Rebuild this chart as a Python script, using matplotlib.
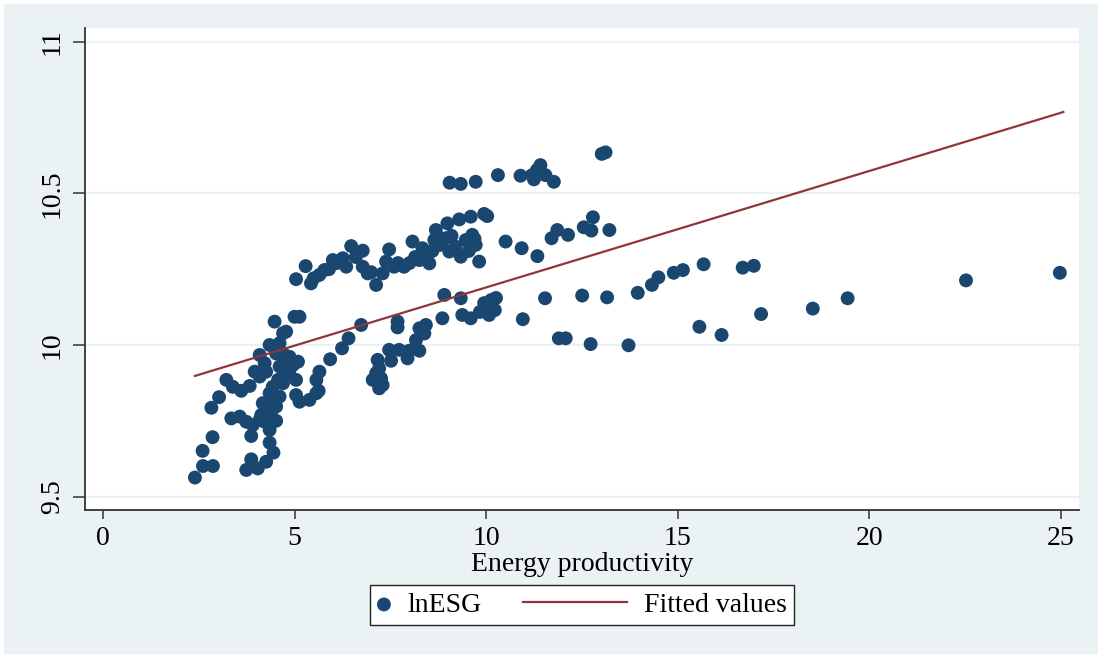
import matplotlib

matplotlib.use("Agg")
import matplotlib.pyplot as plt
import numpy as np
from matplotlib.legend_handler import HandlerLine2D
from matplotlib.patches import Rectangle

# Energy productivity (x) vs lnESG (y)
x_left = [2.40, 2.60, 2.61, 2.87, 2.86, 2.83, 3.03, 3.22, 3.39, 3.61, 3.83, 3.35, 3.57,
          3.74, 3.87, 3.91, 4.09, 3.87, 3.74, 4.04, 4.26, 4.35, 4.45, 4.35, 4.52, 4.22,
          4.13, 4.17, 4.35, 4.52, 4.35, 4.61, 4.43, 4.70, 4.57, 4.78, 4.74, 4.96, 4.61,
          4.87, 5.09, 5.04, 5.04, 5.13, 5.39, 5.57, 5.63, 5.57, 5.65, 5.93, 6.24, 6.41,
          6.74, 4.35, 4.09, 3.96, 4.09, 4.26, 4.22, 4.52, 4.61, 4.70, 4.48, 4.78, 4.70,
          4.87, 5.00, 5.13, 4.39, 4.35]
y_left = [9.563, 9.651, 9.601, 9.601, 9.696, 9.793, 9.828, 9.885, 9.862, 9.849, 9.865,
          9.758, 9.764, 9.747, 9.700, 9.736, 9.753, 9.623, 9.588, 9.593, 9.615, 9.678,
          9.645, 9.720, 9.750, 9.747, 9.769, 9.808, 9.819, 9.797, 9.841, 9.830, 9.862,
          9.874, 9.885, 9.907, 9.945, 9.934, 9.929, 9.961, 9.945, 9.885, 9.835, 9.813,
          9.819, 9.841, 9.849, 9.885, 9.912, 9.953, 9.989, 10.022, 10.066, 10.000, 9.967,
          9.912, 9.896, 9.912, 9.940, 9.972, 10.006, 10.039, 10.077, 10.044, 9.972, 9.918,
          10.093, 10.093, 9.769, 9.791]

x_band = [5.04, 5.29, 5.43, 5.65, 5.78, 6.00, 6.26, 6.48, 6.78, 6.35, 6.78, 6.91, 7.13,
          7.47, 7.39, 7.60, 7.30, 7.86, 8.08, 8.34, 8.26, 8.52, 8.65, 8.69, 8.99, 9.30,
          9.60, 9.95, 8.95, 9.21, 9.47, 9.64, 9.73, 9.34, 9.82, 10.51, 9.04, 8.43, 5.50,
          5.90, 6.10, 6.60, 7.00, 7.70, 8.00, 8.15, 8.80, 9.10, 9.55, 9.70, 8.60, 10.03]
y_band = [10.217, 10.260, 10.203, 10.231, 10.247, 10.280, 10.286, 10.326, 10.311, 10.258,
          10.258, 10.236, 10.198, 10.315, 10.275, 10.258, 10.236, 10.258, 10.341, 10.319,
          10.280, 10.269, 10.346, 10.379, 10.401, 10.414, 10.423, 10.432, 10.352, 10.324,
          10.346, 10.363, 10.330, 10.291, 10.275, 10.341, 10.308, 10.297, 10.220, 10.250,
          10.270, 10.290, 10.240, 10.270, 10.270, 10.290, 10.330, 10.360, 10.310, 10.350,
          10.310, 10.425]

x_top = [9.05, 9.34, 9.73, 10.31, 10.90, 11.20, 11.42, 11.25, 11.55, 11.77, 11.33, 13.02,
         13.12, 10.93, 11.34, 11.71, 11.86, 12.14, 12.55, 12.79, 12.75, 13.22]
y_top = [10.535, 10.531, 10.538, 10.560, 10.558, 10.560, 10.593, 10.546, 10.560, 10.538,
         10.577, 10.630, 10.635, 10.319, 10.293, 10.352, 10.379, 10.363, 10.388, 10.421,
         10.377, 10.379]

x_mid = [9.95, 10.13, 10.23, 10.08, 9.84, 10.26, 9.60, 9.38, 9.34, 8.91, 8.86, 11.54,
         12.51, 13.16, 10.96, 11.90, 12.08, 12.73, 13.72, 7.69, 7.69, 8.26, 8.43, 8.39,
         8.17, 7.47, 7.73, 7.99, 8.26, 7.95, 7.52, 7.17, 7.21, 7.13, 7.04, 7.26, 7.21, 7.30]
y_mid = [10.138, 10.148, 10.115, 10.099, 10.109, 10.155, 10.088, 10.099, 10.154, 10.165,
         10.088, 10.154, 10.163, 10.157, 10.085, 10.022, 10.022, 10.003, 9.999, 10.077,
         10.058, 10.055, 10.066, 10.038, 10.016, 9.984, 9.984, 9.981, 9.981, 9.956, 9.948,
         9.951, 9.923, 9.907, 9.885, 9.890, 9.857, 9.868]

x_right = [13.96, 14.33, 14.50, 14.90, 15.14, 15.68, 16.70, 16.99, 15.57, 16.15, 17.18,
           18.53, 19.44, 22.53, 24.98]
y_right = [10.172, 10.198, 10.223, 10.238, 10.247, 10.266, 10.255, 10.261, 10.060, 10.033,
           10.102, 10.120, 10.154, 10.213, 10.238]

# fitted line end points
x_fit = [2.40, 25.07]
y_fit = [9.898, 10.768]

x_ticks = [0, 5, 10, 15, 20, 25]
y_ticks = [9.5, 10, 10.5, 11]

NAVY = "#1a476f"
MAROON = "#90353b"
BG = "#eaf2f3"


class LongLine(HandlerLine2D):
    # stretch the line sample to the left so the dot sample can stay short
    def get_xdata(self, legend, xdescent, ydescent, width, height, fontsize):
        xd = np.array([-xdescent - 91.0 * 72 / 100, -xdescent + width])
        return xd, xd


plt.rcParams["font.family"] = ["Liberation Serif", "DejaVu Serif"]

fig = plt.figure(figsize=(10.98, 6.55), dpi=100, facecolor="white")
fig.patches.append(Rectangle((4 / 1098, 2 / 655), 1094 / 1098, 649 / 655,
                             transform=fig.transFigure, color=BG, zorder=-10))
ax = fig.add_axes([85 / 1098, 1 - 510 / 655, 994 / 1098, 482 / 655])
ax.set_facecolor("white")

xs = np.array(x_left + x_band + x_top + x_mid + x_right)
ys = np.array(y_left + y_band + y_top + y_mid + y_right)
sc = ax.scatter(xs, ys, s=100, color=NAVY, edgecolors="none", zorder=3, label="lnESG")
ln, = ax.plot(x_fit, y_fit, color=MAROON, lw=1.6, zorder=4, label="Fitted values")

ax.set_xlim(-0.47, 25.48)
ax.set_ylim(9.456, 11.045)
ax.set_xticks(x_ticks)
ax.set_yticks(y_ticks)
ax.set_yticklabels(["9.5", "10", "10.5", "11"])
ax.grid(axis="y", color=BG, lw=1.6, zorder=0)
ax.set_axisbelow(True)
for s in ["top", "right"]:
    ax.spines[s].set_visible(False)
for s in ["left", "bottom"]:
    ax.spines[s].set_color("#333333")
    ax.spines[s].set_linewidth(1.3)
ax.tick_params(axis="x", length=6.5, width=1.1, color="#333333", labelsize=20, pad=5)
ax.tick_params(axis="y", length=8.5, width=1.1, color="#333333", labelsize=20, pad=6)
for lab in ax.get_yticklabels():
    lab.set_rotation(90)
    lab.set_va("center")
ax.set_xlabel("Energy productivity", fontsize=20, labelpad=1)

leg = fig.legend([sc, ln], ["lnESG", "Fitted values"], loc="center",
                 bbox_to_anchor=(582 / 1098, 1 - 605 / 655), ncol=2, fontsize=20,
                 handlelength=0.5, handletextpad=0.6, columnspacing=4.75,
                 borderpad=0.25, fancybox=False, framealpha=1, edgecolor="#222222",
                 scatterpoints=1, handler_map={ln: LongLine()})
leg.get_frame().set_linewidth(1.0)

fig.savefig("out.png", dpi=100, facecolor=fig.get_facecolor())
